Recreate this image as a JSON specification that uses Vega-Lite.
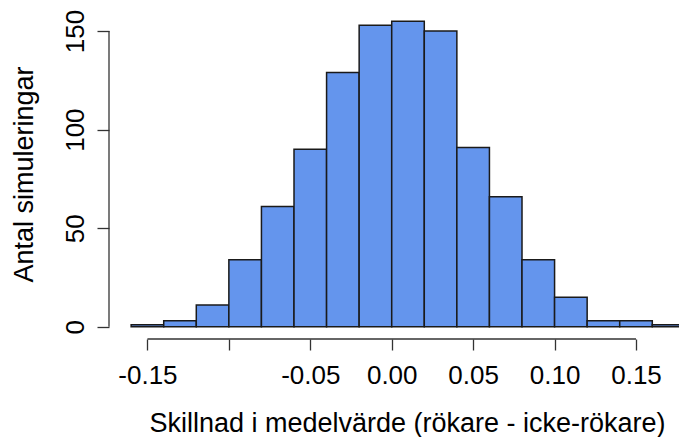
{
  "$schema": "https://vega.github.io/schema/vega-lite/v6.json",
  "autosize": "none",
  "width": 570,
  "height": 330,
  "padding": {"left": 109, "top": 9, "right": 0, "bottom": 98},
  "background": "white",
  "config": {
    "view": {"stroke": null},
    "font": "Liberation Sans",
    "axis": {
      "labelFont": "Liberation Sans",
      "titleFont": "Liberation Sans",
      "labelFontSize": 26,
      "titleFontSize": 27,
      "titleFontWeight": "normal",
      "labelColor": "#000",
      "titleColor": "#000",
      "tickColor": "#333",
      "tickWidth": 1.3,
      "domain": false,
      "grid": false,
      "labelOverlap": false,
      "labelFlush": false
    }
  },
  "data": {
    "values": [
      {"bin_start": -0.16, "bin_end": -0.14, "count": 1},
      {"bin_start": -0.14, "bin_end": -0.12, "count": 3},
      {"bin_start": -0.12, "bin_end": -0.10, "count": 11},
      {"bin_start": -0.10, "bin_end": -0.08, "count": 34},
      {"bin_start": -0.08, "bin_end": -0.06, "count": 61},
      {"bin_start": -0.06, "bin_end": -0.04, "count": 90},
      {"bin_start": -0.04, "bin_end": -0.02, "count": 129},
      {"bin_start": -0.02, "bin_end": 0.00, "count": 153},
      {"bin_start": 0.00, "bin_end": 0.02, "count": 155},
      {"bin_start": 0.02, "bin_end": 0.04, "count": 150},
      {"bin_start": 0.04, "bin_end": 0.06, "count": 91},
      {"bin_start": 0.06, "bin_end": 0.08, "count": 66},
      {"bin_start": 0.08, "bin_end": 0.10, "count": 34},
      {"bin_start": 0.10, "bin_end": 0.12, "count": 15},
      {"bin_start": 0.12, "bin_end": 0.14, "count": 3},
      {"bin_start": 0.14, "bin_end": 0.16, "count": 3},
      {"bin_start": 0.16, "bin_end": 0.18, "count": 1}
    ]
  },
  "layer": [
    {
      "mark": {"type": "rect", "fill": "#6495ED", "stroke": "#1a1a1a", "strokeWidth": 1.5, "clip": true},
      "encoding": {
        "x": {
          "field": "bin_start",
          "type": "quantitative",
          "scale": {"domain": [-0.1736, 0.1764], "nice": false, "zero": false},
          "axis": {
            "values": [-0.15, -0.1, -0.05, 0, 0.05, 0.1, 0.15],
            "tickSize": 11,
            "labelPadding": 33,
            "labelBaseline": "alphabetic",
            "labelAlign": "center",
            "labelExpr": "(datum.value > -0.11 && datum.value < -0.09) ? '' : replace(format(datum.value, '.2f'), '\u2212', '-')",
            "title": "Skillnad i medelvärde (rökare - icke-rökare)",
            "titleX": 298,
            "titleY": 92,
            "titleBaseline": "alphabetic",
            "titleAlign": "center"
          }
        },
        "x2": {"field": "bin_end"},
        "y": {
          "field": "count",
          "type": "quantitative",
          "scale": {"domain": [-6.2, 161.2], "nice": false, "zero": false},
          "axis": {
            "values": [0, 50, 100, 150],
            "format": "d",
            "tickSize": 12,
            "labelAngle": 270,
            "labelAlign": "center",
            "labelBaseline": "alphabetic",
            "labelPadding": 14,
            "title": "Antal simuleringar",
            "titleAngle": 270,
            "titleAlign": "center",
            "titleBaseline": "alphabetic",
            "titleX": -77,
            "titleY": 165
          }
        },
        "y2": {"datum": 0}
      }
    },
    {
      "data": {"values": [{}]},
      "mark": {"type": "rule", "color": "#333", "strokeWidth": 1.3},
      "encoding": {
        "x": {"datum": -0.1736, "type": "quantitative"},
        "y": {"datum": 0, "type": "quantitative"},
        "y2": {"datum": 150}
      }
    },
    {
      "data": {"values": [{}]},
      "mark": {"type": "rule", "color": "#333", "strokeWidth": 1.3},
      "encoding": {
        "y": {"datum": -6.2, "type": "quantitative"},
        "x": {"datum": -0.15, "type": "quantitative"},
        "x2": {"datum": 0.15}
      }
    }
  ]
}
